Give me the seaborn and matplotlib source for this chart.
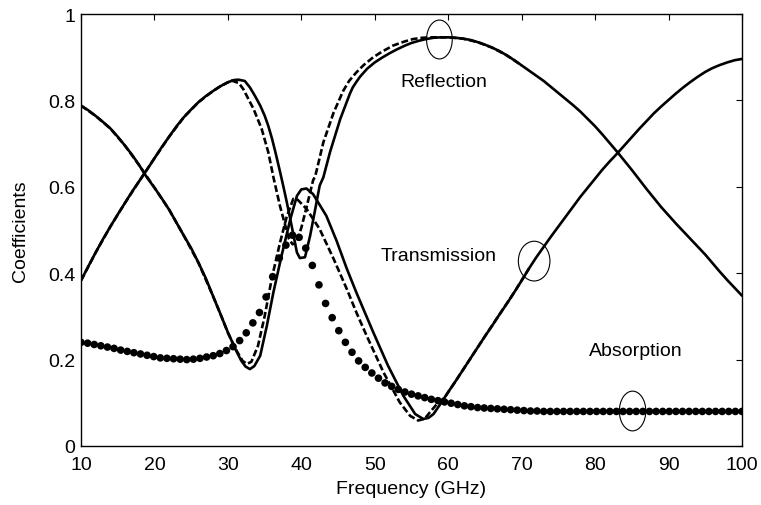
import matplotlib
matplotlib.use("Agg")
import matplotlib.pyplot as plt
from matplotlib.patches import Ellipse
import seaborn as sns
import pandas as pd

# ---------------- data ----------------
refl_solid_f = [10, 11, 12, 13, 14, 15, 16, 17, 18, 19, 20, 21, 22, 23, 24, 25, 26, 27, 28,
                29, 30, 30.8, 31.4, 32.3, 33.0, 33.7, 34.4, 35.0, 35.5, 36.0, 36.5, 37.0,
                37.5, 38.0, 38.5, 39.0, 39.4, 39.8, 40.5, 41.2, 41.9, 42.5, 43.0, 43.9,
                45.3, 46.6, 47.0, 47.5, 48.0, 49, 50, 51, 52, 53, 54, 55, 56, 57, 58, 59,
                60, 61, 62, 63, 64, 65, 66, 67, 68, 69, 70, 71, 72, 73, 74, 75, 76, 77,
                78, 79, 80, 81, 82, 83, 84, 85, 86, 87, 88, 89, 90, 91, 92, 93, 94, 95,
                96, 97, 98, 99, 100]
refl_solid_v = [0.383, 0.416, 0.448, 0.479, 0.508, 0.536, 0.563, 0.590, 0.615, 0.640,
                0.666, 0.692, 0.716, 0.740, 0.761, 0.779, 0.796, 0.810, 0.822, 0.833,
                0.842, 0.847, 0.848, 0.845, 0.830, 0.810, 0.788, 0.765, 0.741, 0.712,
                0.678, 0.642, 0.605, 0.566, 0.525, 0.482, 0.448, 0.435, 0.437, 0.487,
                0.549, 0.603, 0.622, 0.680, 0.757, 0.815, 0.830, 0.843, 0.855, 0.874,
                0.888, 0.899, 0.909, 0.918, 0.926, 0.933, 0.938, 0.942, 0.945, 0.946,
                0.946, 0.945, 0.943, 0.940, 0.935, 0.929, 0.922, 0.914, 0.904, 0.893,
                0.881, 0.869, 0.857, 0.845, 0.831, 0.817, 0.803, 0.789, 0.774, 0.757,
                0.740, 0.721, 0.701, 0.681, 0.660, 0.639, 0.617, 0.595, 0.574, 0.553,
                0.534, 0.515, 0.497, 0.479, 0.461, 0.443, 0.423, 0.403, 0.384, 0.366,
                0.348]

refl_dash_f = [10, 12, 14, 16, 18, 20, 22, 24, 26, 28, 29, 29.8, 30.5, 31.5, 32.1, 33.5,
               34.6, 35.5, 36.2, 37.1, 37.9, 38.3, 38.8, 39.3, 40.0, 40.7, 41.6, 41.9,
               43.0, 44.4, 45.7, 46.5, 47.5, 48.5, 49.8, 51, 52.5, 54, 55.2, 56.5, 58,
               60, 62, 64, 66, 68, 70]
refl_dash_v = [0.383, 0.448, 0.508, 0.563, 0.615, 0.666, 0.716, 0.761, 0.796, 0.822,
               0.833, 0.840, 0.846, 0.840, 0.826, 0.780, 0.734, 0.680, 0.622, 0.555,
               0.505, 0.480, 0.467, 0.470, 0.505, 0.552, 0.615, 0.625, 0.703, 0.772,
               0.822, 0.845, 0.865, 0.882, 0.900, 0.913, 0.927, 0.936, 0.942, 0.945,
               0.946, 0.946, 0.943, 0.935, 0.922, 0.904, 0.881]

trans_solid_f = [10, 11, 12, 13, 14, 15, 16, 17, 18, 19, 20, 21, 22, 23, 24, 25, 26, 27,
                 28, 29, 30, 31, 31.8, 32.4, 33.0, 33.6, 34.4, 35.3, 36.2, 37.3, 38.5,
                 39.4, 40.0, 40.7, 41.6, 42.5, 43.4, 44.8, 46.2, 47.5, 49.8, 51.8, 53.9,
                 55.5, 56.6, 57.3, 58, 59, 60, 61, 62, 63, 64, 65, 66, 67, 68, 69, 70,
                 71, 72, 73, 74, 75, 76, 77, 78, 79, 80, 81, 82, 83, 84, 85, 86, 87, 88,
                 89, 90, 91, 92, 93, 94, 95, 96, 97, 98, 99, 100]
trans_solid_v = [0.788, 0.777, 0.764, 0.750, 0.735, 0.716, 0.695, 0.673, 0.648, 0.621,
                 0.598, 0.573, 0.547, 0.517, 0.487, 0.458, 0.424, 0.388, 0.346, 0.305,
                 0.263, 0.225, 0.198, 0.184, 0.178, 0.185, 0.209, 0.278, 0.356, 0.440,
                 0.525, 0.579, 0.594, 0.596, 0.583, 0.558, 0.533, 0.475, 0.410, 0.355,
                 0.263, 0.186, 0.116, 0.074, 0.0625, 0.065, 0.074, 0.099, 0.125, 0.150,
                 0.176, 0.202, 0.228, 0.254, 0.279, 0.305, 0.330, 0.356, 0.383, 0.411,
                 0.437, 0.461, 0.485, 0.508, 0.531, 0.554, 0.577, 0.598, 0.619, 0.640,
                 0.659, 0.677, 0.696, 0.715, 0.734, 0.752, 0.770, 0.786, 0.801, 0.816,
                 0.830, 0.843, 0.855, 0.866, 0.875, 0.882, 0.888, 0.893, 0.896]

trans_dash_f = [10, 12, 14, 16, 18, 20, 22, 24, 26, 28, 29, 30, 31.2, 32.0, 32.6, 33.2,
                34.1, 35.0, 36.0, 37.1, 38.0, 38.9, 39.5, 40.7, 42.5, 44.4, 46.2, 47.5,
                48.9, 51.2, 53.4, 54.8, 55.9, 56.8, 57.5, 58.5, 59.5, 61, 63, 65, 67,
                69, 71]
trans_dash_v = [0.788, 0.764, 0.735, 0.695, 0.648, 0.598, 0.547, 0.487, 0.424, 0.346,
                0.305, 0.262, 0.220, 0.197, 0.190, 0.195, 0.232, 0.300, 0.390, 0.471,
                0.530, 0.572, 0.570, 0.549, 0.502, 0.433, 0.363, 0.309, 0.255, 0.170,
                0.101, 0.070, 0.059, 0.063, 0.078, 0.098, 0.112, 0.150, 0.202, 0.254,
                0.305, 0.356, 0.411]

abs_f = [10.0, 10.9, 11.8, 12.7, 13.6, 14.5, 15.4, 16.3, 17.2, 18.1, 19.0, 19.9, 20.8,
         21.7, 22.6, 23.5, 24.4, 25.3, 26.2, 27.1, 28.0, 28.9, 29.8, 30.7, 31.6, 32.5,
         33.4, 34.3, 35.2, 36.1, 37.0, 37.9, 38.8, 39.7, 40.6, 41.5, 42.4, 43.3, 44.2,
         45.1, 46.0, 46.9, 47.8, 48.7, 49.6, 50.5, 51.4, 52.3, 53.2, 54.1, 55.0, 55.9,
         56.8, 57.7, 58.6, 59.5, 60.4, 61.3, 62.2, 63.1, 64.0, 64.9, 65.8, 66.7, 67.6,
         68.5, 69.4, 70.3, 71.2, 72.1, 73.0, 73.9, 74.8, 75.7, 76.6, 77.5, 78.4, 79.3,
         80.2, 81.1, 82.0, 82.9, 83.8, 84.7, 85.6, 86.5, 87.4, 88.3, 89.2, 90.1, 91.0,
         91.9, 92.8, 93.7, 94.6, 95.5, 96.4, 97.3, 98.2, 99.1, 100.0]
abs_v = [0.240, 0.238, 0.235, 0.232, 0.229, 0.226, 0.222, 0.219, 0.216, 0.213, 0.210,
         0.207, 0.204, 0.203, 0.202, 0.201, 0.200, 0.201, 0.203, 0.206, 0.209, 0.214,
         0.221, 0.230, 0.244, 0.262, 0.285, 0.309, 0.345, 0.392, 0.435, 0.465, 0.488,
         0.483, 0.458, 0.418, 0.373, 0.330, 0.297, 0.267, 0.240, 0.217, 0.197, 0.182,
         0.169, 0.157, 0.146, 0.138, 0.131, 0.125, 0.120, 0.116, 0.112, 0.108, 0.105,
         0.102, 0.099, 0.096, 0.093, 0.091, 0.089, 0.088, 0.087, 0.086, 0.085, 0.084,
         0.083, 0.082, 0.081, 0.081, 0.080, 0.080, 0.080, 0.080, 0.080, 0.080, 0.080,
         0.080, 0.080, 0.080, 0.080, 0.080, 0.080, 0.080, 0.080, 0.080, 0.080, 0.080,
         0.080, 0.080, 0.080, 0.080, 0.080, 0.080, 0.080, 0.080, 0.080, 0.080, 0.080,
         0.080, 0.080]

x_ticks = [10, 20, 30, 40, 50, 60, 70, 80, 90, 100]
y_ticks = [0, 0.2, 0.4, 0.6, 0.8, 1.0]
y_tick_labels = ["0", "0.2", "0.4", "0.6", "0.8", "1"]

labels = ["Reflection", "Transmission", "Absorption"]
label_pos = [(59.4, 0.843), (58.7, 0.44), (85.6, 0.221)]
ellipses = [(58.8, 0.941, 3.5, 0.09), (71.7, 0.428, 4.3, 0.092), (85.1, 0.081, 3.6, 0.092)]

# ---------------- plotting ----------------
sns.set_theme(style="white")
plt.rcParams["font.family"] = ["Liberation Sans", "DejaVu Sans"]

fig = plt.figure(figsize=(7.61, 5.06), dpi=100)
ax = fig.add_axes([81 / 761, (506 - 447) / 506, 661 / 761, 432 / 506])

def df(f, v):
    return pd.DataFrame({"f": f, "v": v})

lw = 1.9
dash = (2.6, 1.1)
sns.lineplot(data=df(refl_dash_f, refl_dash_v), x="f", y="v", ax=ax, color="black",
             lw=lw, sort=False, estimator=None)
ax.lines[-1].set_dashes(dash)
sns.lineplot(data=df(trans_dash_f, trans_dash_v), x="f", y="v", ax=ax, color="black",
             lw=lw, sort=False, estimator=None)
ax.lines[-1].set_dashes(dash)
sns.lineplot(data=df(refl_solid_f, refl_solid_v), x="f", y="v", ax=ax, color="black",
             lw=lw, sort=False, estimator=None)
sns.lineplot(data=df(trans_solid_f, trans_solid_v), x="f", y="v", ax=ax, color="black",
             lw=lw, sort=False, estimator=None)
sns.scatterplot(data=df(abs_f, abs_v), x="f", y="v", ax=ax, color="black", s=30,
                edgecolor="none", zorder=5)

for (cx, cy, w, h) in ellipses:
    ax.add_patch(Ellipse((cx, cy), w, h, fill=False, edgecolor="black", lw=0.8, zorder=6))

for txt, (tx, ty) in zip(labels, label_pos):
    ax.text(tx, ty, txt, ha="center", va="center", fontsize=14, color="black")

ax.set_xlim(10, 100)
ax.set_ylim(0, 1)
ax.set_xticks(x_ticks)
ax.set_xticklabels([str(t) for t in x_ticks])
ax.set_yticks(y_ticks)
ax.set_yticklabels(y_tick_labels)
ax.tick_params(direction="in", length=4.5, width=0.8, top=True, right=True,
               labelsize=14, colors="black")
ax.tick_params(axis="x", pad=7)
ax.tick_params(axis="y", pad=4)
for s in ax.spines.values():
    s.set_color("black")
    s.set_linewidth(1.0)
ax.set_xlabel("Frequency (GHz)", fontsize=14, color="black", labelpad=5)
ax.set_ylabel("Coefficients", fontsize=14, color="black", labelpad=14)

fig.savefig("out.png", dpi=100)
